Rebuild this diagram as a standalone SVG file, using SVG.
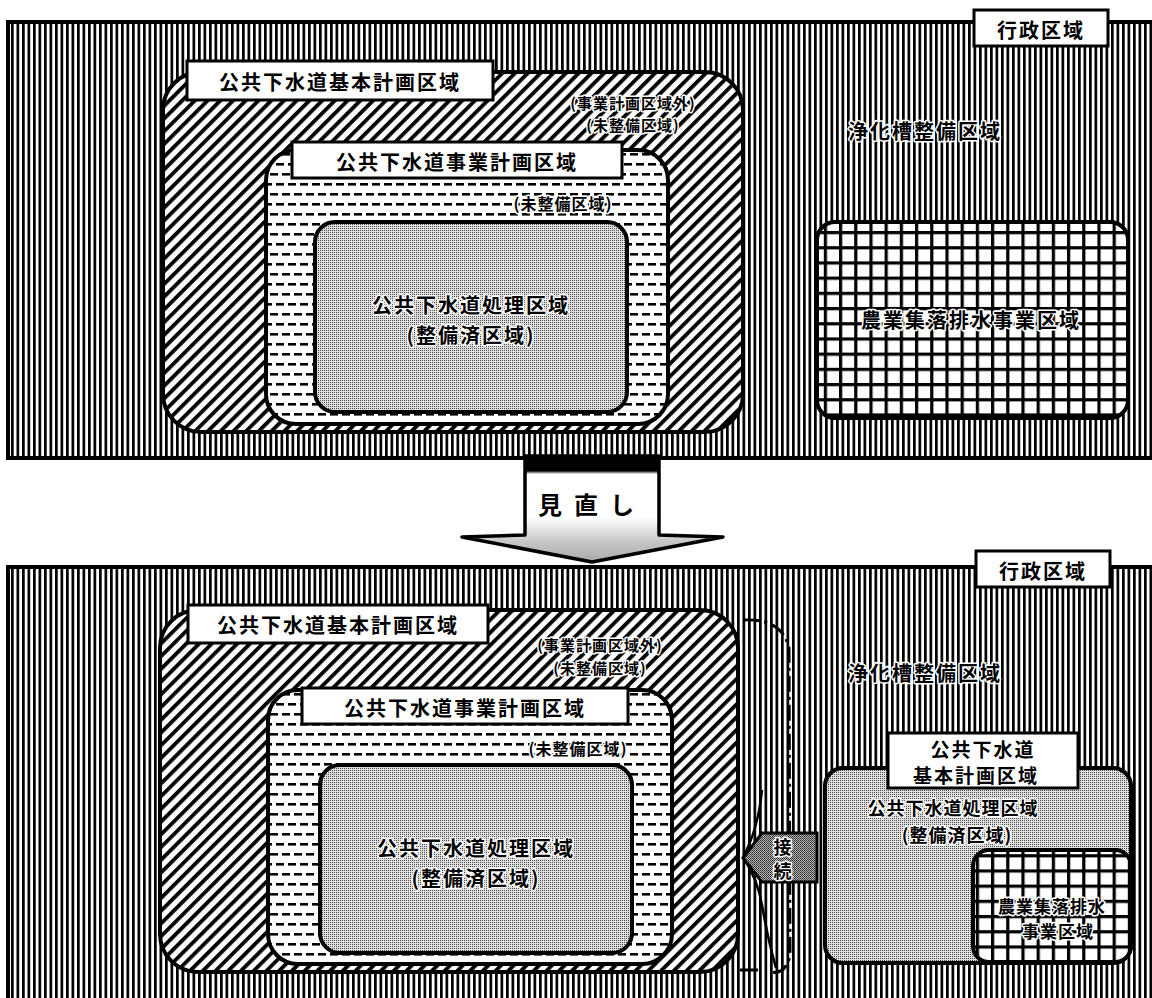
<svg xmlns="http://www.w3.org/2000/svg" width="1152" height="998" viewBox="0 0 1152 998">
<style>
text{font-family:"Noto Sans CJK JP","Noto Sans CJK SC",sans-serif;font-weight:700;fill:#000;text-anchor:middle;dominant-baseline:central}
.lbl{font-size:20px;letter-spacing:2px}
.sm{font-size:15px;letter-spacing:1px}
.halo{stroke:#fff;stroke-width:3px;paint-order:stroke;stroke-linejoin:round}
.box{fill:#fff;stroke:#000;stroke-width:3}
.edge{stroke:#000;stroke-width:4}
</style>
<defs>
<pattern id="vs" width="5.5" height="10" patternUnits="userSpaceOnUse"><rect width="5.5" height="10" fill="#fff"/><rect width="2.7" height="10" fill="#000"/></pattern>
<pattern id="hatch" width="9" height="9" patternUnits="userSpaceOnUse" patternTransform="rotate(45)"><rect width="9" height="9" fill="#fff"/><rect width="3.8" height="9" fill="#000"/></pattern>
<pattern id="dash" width="12" height="20" patternUnits="userSpaceOnUse"><rect width="12" height="20" fill="#fff"/><rect x="0" y="3" width="8" height="2.6" fill="#000"/><rect x="6" y="13" width="6" height="2.6" fill="#000"/><rect x="0" y="13" width="2" height="2.6" fill="#000"/></pattern>
<pattern id="stip" width="2" height="2" patternUnits="userSpaceOnUse"><rect width="2" height="2" fill="#e0e0e0"/><rect width="1" height="1" fill="#4a4a4a"/></pattern>
<pattern id="stipd" width="2" height="2" patternUnits="userSpaceOnUse"><rect width="2" height="2" fill="#bbb"/><rect width="1" height="1" fill="#222"/><rect x="1" y="1" width="1" height="1" fill="#444"/></pattern>
<pattern id="grid" width="15.2" height="15.2" patternUnits="userSpaceOnUse" x="3" y="3"><rect width="15.2" height="15.2" fill="#fff"/><rect width="3.2" height="15.2" fill="#000"/><rect width="15.2" height="3.2" fill="#000"/></pattern>
<linearGradient id="arrg" x1="0" y1="0" x2="0" y2="1"><stop offset="0" stop-color="#000"/><stop offset="0.14" stop-color="#000"/><stop offset="0.17" stop-color="#fff"/><stop offset="0.58" stop-color="#fff"/><stop offset="0.8" stop-color="#c8c8c8"/><stop offset="1" stop-color="#aaa"/></linearGradient>
</defs>

<!-- TOP PANEL -->
<g id="top-admin">
<rect x="8" y="22" width="1160" height="436" fill="url(#vs)" stroke="#000" stroke-width="4"/>
</g>
<g id="top-admin-label">
<rect class="box" x="974" y="10" width="134" height="36"/>
<text class="lbl" x="1041" y="29">行政区域</text>
</g>
<g id="top-septic">
<text class="lbl halo" x="925" y="130">浄化槽整備区域</text>
</g>
<g id="top-basic">
<rect x="163" y="72" width="580" height="360" rx="38" fill="url(#hatch)" class="edge"/>
<rect class="box" x="187" y="61" width="306" height="39"/>
<text class="lbl" x="340" y="81">公共下水道基本計画区域</text>
<text class="sm halo" x="633" y="102">(事業計画区域外)</text>
<text class="sm halo" x="633" y="124">(未整備区域)</text>
</g>
<g id="top-project">
<rect x="266" y="150" width="402" height="274" rx="30" fill="url(#dash)" class="edge"/>
<rect class="box" x="292" y="142" width="330" height="36"/>
<text class="lbl" x="457" y="161">公共下水道事業計画区域</text>
<text class="sm halo" x="563" y="203" style="font-size:16px">(未整備区域)</text>
</g>
<g id="top-treat">
<rect x="315" y="222" width="312" height="190" rx="20" fill="url(#stip)" class="edge"/>
<text class="lbl halo" x="471" y="304">公共下水道処理区域</text>
<text class="lbl halo" x="471" y="334">(整備済区域)</text>
</g>
<g id="top-agri">
<rect x="817" y="222" width="311" height="196" rx="18" fill="url(#grid)" class="edge"/>
<text class="lbl halo" x="971" y="319">農業集落排水事業区域</text>
</g>

<!-- BOTTOM PANEL -->
<g id="bot-admin">
<rect x="8" y="567" width="1160" height="450" fill="url(#vs)" stroke="#000" stroke-width="4"/>
</g>
<g id="bot-admin-label">
<rect class="box" x="976" y="551" width="134" height="36"/>
<text class="lbl" x="1043" y="570">行政区域</text>
</g>
<g id="bot-septic">
<text class="lbl halo" x="925" y="672">浄化槽整備区域</text>
</g>
<g id="bot-basic">
<rect x="160" y="610" width="578" height="362" rx="38" fill="url(#hatch)" class="edge"/>
<rect class="box" x="188" y="605" width="300" height="38"/>
<text class="lbl" x="338" y="624">公共下水道基本計画区域</text>
<text class="sm halo" x="600" y="644">(事業計画区域外)</text>
<text class="sm halo" x="600" y="667">(未整備区域)</text>
</g>
<g id="bot-project">
<rect x="268" y="690" width="404" height="274" rx="30" fill="url(#dash)" class="edge"/>
<rect class="box" x="302" y="688" width="326" height="36"/>
<text class="lbl" x="465" y="707">公共下水道事業計画区域</text>
<text class="sm halo" x="578" y="748" style="font-size:16px">(未整備区域)</text>
</g>
<g id="bot-treat">
<rect x="320" y="765" width="312" height="188" rx="20" fill="url(#stip)" class="edge"/>
<text class="lbl halo" x="476" y="847">公共下水道処理区域</text>
<text class="lbl halo" x="476" y="877">(整備済区域)</text>
</g>
<g id="bot-new-area">
<rect x="825" y="768" width="306" height="195" rx="18" fill="url(#stip)" class="edge"/>
<rect class="box" x="888" y="733" width="190" height="55"/>
<text class="lbl" x="983" y="748" style="font-size:19px">公共下水道</text>
<text class="lbl" x="976" y="774" style="font-size:19px">基本計画区域</text>
<text class="sm halo" x="953" y="807" style="font-size:18px">公共下水道処理区域</text>
<text class="sm halo" x="957" y="834" style="font-size:18px">(整備済区域)</text>
</g>
<g id="bot-agri">
<rect x="973" y="850" width="158" height="112" rx="16" fill="url(#grid)" class="edge"/>
<text class="sm halo" x="1052" y="905" style="font-size:17px">農業集落排水</text>
<text class="sm halo" x="1058" y="930" style="font-size:17px">事業区域</text>
</g>

<!-- CONNECTORS -->
<g id="connectors">
<g id="review-arrow">
<path d="M525,456 L659,456 L659,535 L723,537 L592,562 L462,537 L525,535 Z" fill="url(#arrg)" stroke="#000" stroke-width="3.5" stroke-linejoin="round"/>
<text x="592" y="503" style="font-size:24px;letter-spacing:12px">見直し</text>
</g>
<g id="extension-bracket" fill="none" stroke="#000">
<path d="M743,620 Q782,618 789,648 L790,955 Q786,975 770,972" stroke-width="3" stroke-dasharray="16 5 3 5"/>
<path d="M740,970 L758,970" stroke-width="3"/>
<path d="M762,790 Q758,830 743,857 Q758,880 762,905 Q768,940 776,968" stroke-width="2.5"/>
</g>
<g id="connect-arrow">
<path d="M817,833 L762,833 L743,858 L762,882 L817,882 Z" fill="url(#stipd)" stroke="#000" stroke-width="3"/>
<text class="sm halo" x="783" y="846" style="font-size:18px">接</text>
<text class="sm halo" x="783" y="870" style="font-size:18px">続</text>
</g>
</g>
</svg>
